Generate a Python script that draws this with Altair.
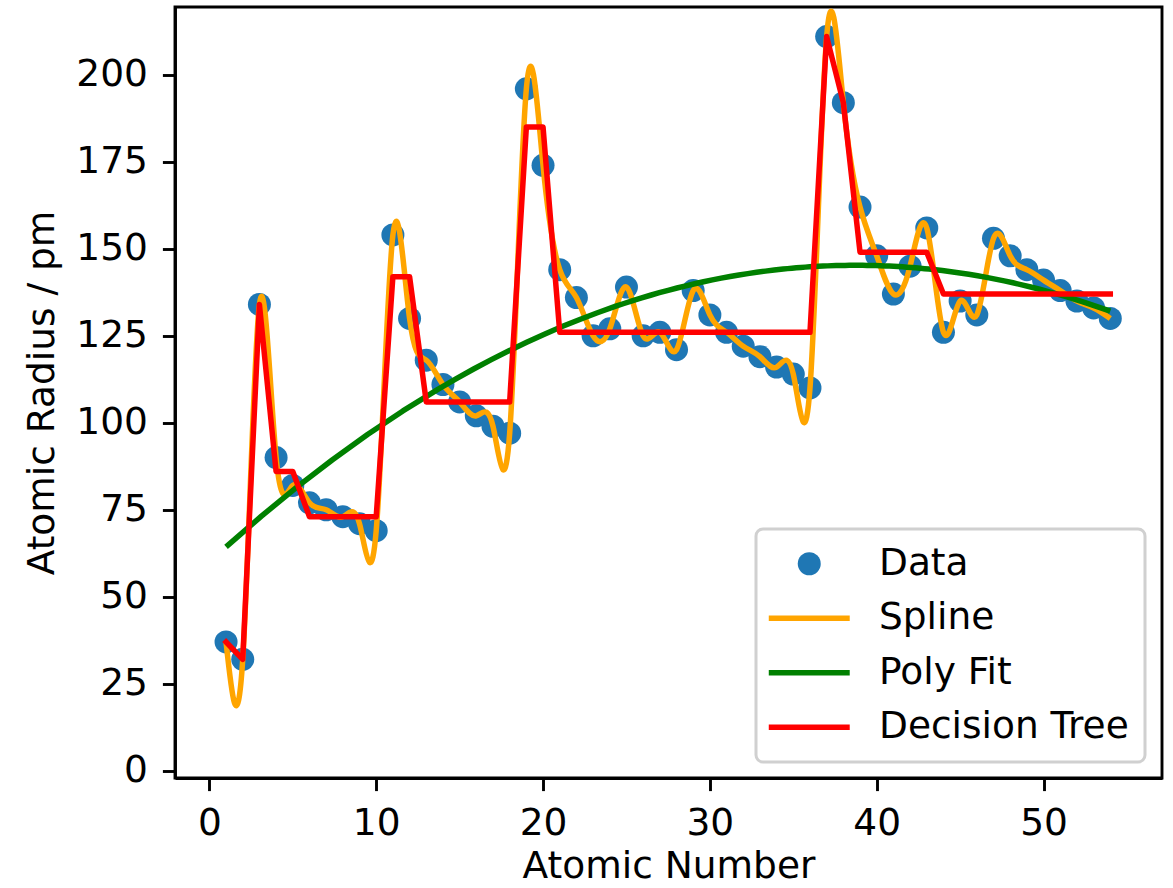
import altair as alt
import pandas as pd

# Covalent radii of the first 54 elements (pm)
atomic_number = list(range(1, 55))
radius = [37, 32, 134, 90, 82, 77, 75, 73, 71, 69,
          154, 130, 118, 111, 106, 102, 99, 97,
          196, 174, 144, 136, 125, 127, 139, 125, 126, 121, 138, 131,
          126, 122, 119, 116, 114, 110,
          211, 192, 162, 148, 137, 145, 156, 126, 135, 131, 153, 148,
          144, 141, 138, 135, 133, 130]

# Decision tree predictions at each atomic number
tree_radius = [37, 32, 134, 86, 86, 73, 73, 73, 73, 73,
               142, 142, 106, 106, 106, 106, 106, 106,
               185, 185, 126, 126, 126, 126, 126, 126, 126, 126, 126, 126,
               126, 126, 126, 126, 126, 126,
               211, 192, 149, 149, 149, 149, 149, 137, 137, 137, 137, 137,
               137, 137, 137, 137, 137, 137]

x_ticks = [0, 10, 20, 30, 40, 50]
y_ticks = [0, 25, 50, 75, 100, 125, 150, 175, 200]

series_names = ["Data", "Spline", "Poly Fit", "Decision Tree"]
series_colors = ["#1f77b4", "orange", "green", "red"]
BAR = "M-3.52,-0.235H3.52V0.235H-3.52Z"
legend_shapes = ["circle", BAR, BAR, BAR]

df = pd.DataFrame({
    "number": atomic_number,
    "radius": radius,
    "tree": tree_radius,
    "series": ["Data"] * len(atomic_number),
})

FONT = "DejaVu Sans"
FS = 37.5
LW = 5.5

x_scale = alt.Scale(domain=[-2.06, 57.1], nice=False, zero=False)
y_scale = alt.Scale(domain=[-2.1, 219.5], nice=False, zero=False)
x_axis = alt.Axis(values=x_ticks, title="Atomic Number", format="d")
y_axis = alt.Axis(values=y_ticks, title="Atomic Radius / pm", format="d")


def xe():
    return alt.X("number:Q", scale=x_scale, axis=x_axis)


def ye(field):
    return alt.Y(f"{field}:Q", scale=y_scale, axis=y_axis)


legend = alt.Legend(
    title=None, orient="none", legendX=581, legendY=522,
    padding=16, fillColor="white", strokeColor="#d0d0d0",
    cornerRadius=7, symbolSize=529, symbolOffset=18.5, symbolStrokeWidth=0,
    symbolOpacity=1, labelOffset=51, rowPadding=15.5,
    labelFont=FONT, labelFontSize=FS, labelColor="black", labelLimit=400,
)

points = alt.Chart(df).mark_point(filled=True, size=529, opacity=1).encode(
    x=xe(),
    y=ye("radius"),
    color=alt.Color("series:N", scale=alt.Scale(domain=series_names, range=series_colors), legend=legend),
    shape=alt.Shape("series:N", scale=alt.Scale(domain=series_names, range=legend_shapes), legend=legend),
)

spline = alt.Chart(df).mark_line(
    interpolate="natural", color="orange", strokeWidth=LW, strokeJoin="round", clip=True
).encode(x=xe(), y=ye("radius"))

poly = alt.Chart(df).transform_regression(
    "number", "radius", method="poly", order=2
).mark_line(color="green", strokeWidth=LW, strokeJoin="round", clip=True).encode(
    x=xe(), y=ye("radius")
)

tree = alt.Chart(df).mark_line(
    color="red", strokeWidth=LW, strokeJoin="round", strokeCap="square", clip=True
).encode(x=xe(), y=ye("tree"))

chart = alt.layer(points, spline, poly, tree).properties(
    width=987, height=771,
    autosize=alt.AutoSizeParams(type="none"),
    padding={"left": 175, "top": 7, "right": 11, "bottom": 110},
).configure_view(
    stroke="black", strokeWidth=2.9
).configure_axis(
    grid=False, domainColor="black", domainWidth=2.9,
    tickColor="black", tickWidth=2.9, tickSize=12.6,
    labelFont=FONT, labelFontSize=FS, labelColor="black",
    titleFont=FONT, titleFontSize=FS, titleColor="black", titleFontWeight="normal",
).configure_axisX(
    labelPadding=14, titlePadding=5,
).configure_axisY(
    labelPadding=15, titlePadding=14,
).configure_legend(
    strokeWidth=3,
)

chart.save("out.html", embed_options={"renderer": "svg", "actions": False})
